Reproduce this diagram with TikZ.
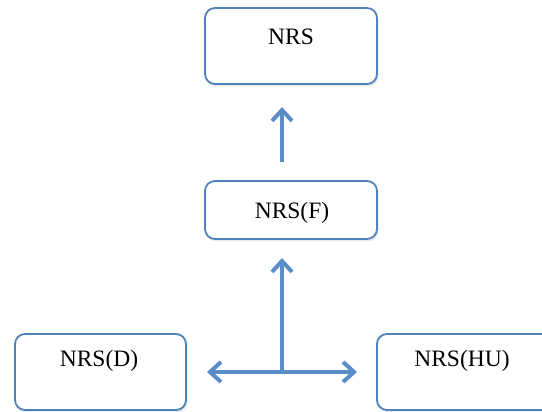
\documentclass[tikz,border=0pt]{standalone}
\usepackage{fontspec}
\setmainfont{Liberation Serif}
\usetikzlibrary{arrows.meta,shadows}
\definecolor{boxline}{HTML}{4F81BD}
\definecolor{arrowblue}{HTML}{5A8DC8}
\tikzset{
  box/.style={draw=boxline, line width=1.8pt, rounded corners=10pt, fill=white,
    drop shadow={opacity=0.18, shadow xshift=1.5pt, shadow yshift=-2.5pt}},
  boxtext/.style={font=\fontsize{23.5}{28}\selectfont, anchor=base},
  flow/.style={draw=arrowblue, line width=4pt,
    -{Straight Barb[length=11pt, width=20pt, line width=4pt]}},
}
\begin{document}
\begin{tikzpicture}[x=1pt, y=1pt]
  \useasboundingbox (0,0) rectangle (542,412);
  % boxes
  \draw[box] (205,328) rectangle (377,404);
  \draw[box] (205,173) rectangle (377,231);
  \draw[box] (15,2) rectangle (186,78);
  \draw[box] (377,2) rectangle (560,78);
  % labels
  \node[boxtext] (tnrs)  at (291,367) {NRS};
  \node[boxtext] (tnrsf) at (292,193) {NRS(F)};
  \node[boxtext] (tnrsd) at (99,45) {NRS(D)};
  \node[boxtext] (tnrshu) at (462,45) {NRS(HU)};
  % connectors
  \coordinate (fup) at (282,250);
  \coordinate (ftop) at (282,305);
  \coordinate (hub) at (282,40);
  \coordinate (upt) at (282,154);
  \coordinate (lt) at (207,40);
  \coordinate (rt) at (357,40);
  \draw[flow] (fup) -- (ftop);
  \draw[flow] (hub) -- (upt);
  \draw[flow] (hub) -- (lt);
  \draw[flow] (hub) -- (rt);
\end{tikzpicture}
\end{document}
